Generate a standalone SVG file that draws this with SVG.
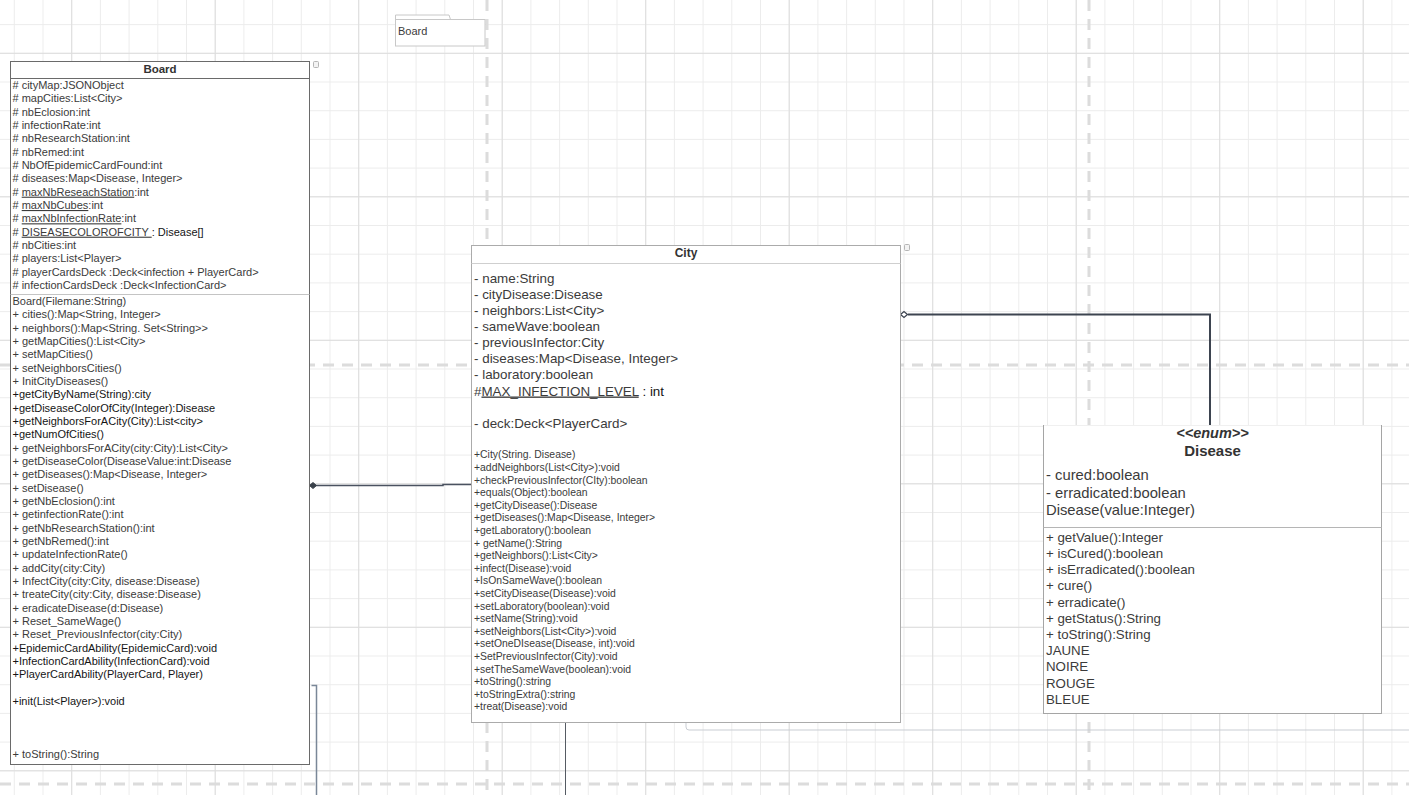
<svg xmlns="http://www.w3.org/2000/svg" width="1409" height="795" viewBox="0 0 1409 795">
<defs>
<pattern id="minor" width="28.7" height="28.7" patternUnits="userSpaceOnUse" x="13.8" y="24.1"><path d="M0 0.5H28.7M0.5 0V28.7" stroke="#ececec" stroke-width="1" fill="none"/></pattern>
<pattern id="major" width="143.5" height="143.5" patternUnits="userSpaceOnUse" x="71.2" y="52.8"><path d="M0 0.5H143.5M0.5 0V143.5" stroke="#dddddd" stroke-width="1" fill="none"/></pattern>
<style>
.t{font-family:"Liberation Sans",Arial,sans-serif;fill:#3b3b3b}
.b{font-size:11px}
.dk{fill:#151515}
.ca{font-size:13.4px}
.cm{font-size:10.4px}
.da{font-size:14.8px}
.dm{font-size:13.3px}
.hd{font-weight:bold;text-anchor:middle;fill:#333}
.u{text-decoration:underline}
.page{stroke:#dcdcdc;stroke-width:3;stroke-dasharray:11 8;fill:none}
.icon{fill:#f3f3f3;stroke:#b5b5b5;stroke-width:1}
</style>
</defs>
<rect width="1409" height="795" fill="#ffffff"/>
<rect width="1409" height="795" fill="url(#minor)"/>
<rect width="1409" height="795" fill="url(#major)"/>
<g id="pagebreaks">
<path class="page" d="M487 0V795"/>
<path class="page" d="M1089 0V795"/>
<path class="page" d="M0 365H1409"/>
<path class="page" d="M0 784H1409"/>
</g>
<g id="package">
<path d="M395.5 19.5V15H449l1.5 4.5" fill="#fff" stroke="#c8c8c8" stroke-width="1"/>
<rect x="395.5" y="19.5" width="89.5" height="26.5" fill="#fff" stroke="#c8c8c8" stroke-width="1"/>
<text class="t" x="398" y="35" font-size="11px">Board</text>
</g>
<g id="connectors" fill="none">
<path d="M316 485.5H443V484.5H471" stroke="#4a5260" stroke-width="1.5"/>
<path d="M309.5 485.5l3.5-3 3.5 3-3.5 3z" fill="#3a414a" stroke="#3a414a" stroke-width="1"/>
<path d="M908 314.5H1210V425" stroke="#3d4450" stroke-width="2"/>
<path d="M900.5 314.5l3.5-3 3.5 3-3.5 3z" fill="#fff" stroke="#3d4450" stroke-width="1.3"/>
<path d="M311.5 685.5H316.5V795" stroke="#7a8798" stroke-width="1.5"/>
<path d="M565.5 722V795" stroke="#555b63" stroke-width="1"/>
<path d="M686 722V727a3 3 0 0 0 3 3H1409" stroke="#c9cdd3" stroke-width="1"/>
</g>
<g id="Board">
<rect x="10.5" y="61.5" width="299" height="703" fill="#fff" stroke="#6a6a6a" stroke-width="1"/>
<path d="M10.5 78.5H309.5" stroke="#6a6a6a" stroke-width="1"/>
<path d="M10.5 294.5H309.5" stroke="#c4c4c4" stroke-width="1"/>
<rect class="icon" x="313.5" y="61.5" width="5" height="6" rx="1"/>
<text class="t hd" x="160" y="72.5" font-size="11.5px">Board</text>
<text class="t b" x="12.5" y="89"># cityMap:JSONObject</text>
<text class="t b" x="12.5" y="102.3"># mapCities:List&lt;City&gt;</text>
<text class="t b" x="12.5" y="115.7"># nbEclosion:int</text>
<text class="t b" x="12.5" y="129"># infectionRate:int</text>
<text class="t b" x="12.5" y="142.3"># nbResearchStation:int</text>
<text class="t b" x="12.5" y="155.7"># nbRemed:int</text>
<text class="t b" x="12.5" y="169"># NbOfEpidemicCardFound:int</text>
<text class="t b" x="12.5" y="182.3"># diseases:Map&lt;Disease, Integer&gt;</text>
<text class="t b" x="12.5" y="195.7"># <tspan class="u">maxNbReseachStation</tspan>:int</text>
<text class="t b" x="12.5" y="209"># <tspan class="u">maxNbCubes</tspan>:int</text>
<text class="t b" x="12.5" y="222.3"># <tspan class="u">maxNbInfectionRate</tspan>:int</text>
<text class="t b" x="12.5" y="235.7"># <tspan class="u">DISEASECOLOROFCITY </tspan><tspan class="dk">: Disease[]</tspan></text>
<text class="t b" x="12.5" y="249"># nbCities:int</text>
<text class="t b" x="12.5" y="262.3"># players:List&lt;Player&gt;</text>
<text class="t b" x="12.5" y="275.7"># playerCardsDeck :Deck&lt;infection + PlayerCard&gt;</text>
<text class="t b" x="12.5" y="289"># infectionCardsDeck :Deck&lt;InfectionCard&gt;</text>
<text class="t b" x="12.5" y="305">Board(Filemane:String)</text>
<text class="t b" x="12.5" y="318.3">+ cities():Map&lt;String, Integer&gt;</text>
<text class="t b" x="12.5" y="331.7">+ neighbors():Map&lt;String. Set&lt;String&gt;&gt;</text>
<text class="t b" x="12.5" y="345">+ getMapCities():List&lt;City&gt;</text>
<text class="t b" x="12.5" y="358.3">+ setMapCities()</text>
<text class="t b" x="12.5" y="371.7">+ setNeighborsCities()</text>
<text class="t b" x="12.5" y="385">+ InitCityDiseases()</text>
<text class="t b dk" x="12.5" y="398.3">+getCityByName(String):city</text>
<text class="t b dk" x="12.5" y="411.7">+getDiseaseColorOfCity(Integer):Disease</text>
<text class="t b dk" x="12.5" y="425">+getNeighborsForACity(City):List&lt;city&gt;</text>
<text class="t b dk" x="12.5" y="438.3">+getNumOfCities()</text>
<text class="t b" x="12.5" y="451.7">+ getNeighborsForACity(city:City):List&lt;City&gt;</text>
<text class="t b" x="12.5" y="465">+ getDiseaseColor(DiseaseValue:int:Disease</text>
<text class="t b" x="12.5" y="478.3">+ getDiseases():Map&lt;Disease, Integer&gt;</text>
<text class="t b" x="12.5" y="491.7">+ setDisease()</text>
<text class="t b" x="12.5" y="505">+ getNbEclosion():int</text>
<text class="t b" x="12.5" y="518.3">+ getinfectionRate():int</text>
<text class="t b" x="12.5" y="531.7">+ getNbResearchStation():int</text>
<text class="t b" x="12.5" y="545">+ getNbRemed():int</text>
<text class="t b" x="12.5" y="558.3">+ updateInfectionRate()</text>
<text class="t b" x="12.5" y="571.7">+ addCity(city:City)</text>
<text class="t b" x="12.5" y="585">+ InfectCity(city:City, disease:Disease)</text>
<text class="t b" x="12.5" y="598.3">+ treateCity(city:City, disease:Disease)</text>
<text class="t b" x="12.5" y="611.7">+ eradicateDisease(d:Disease)</text>
<text class="t b" x="12.5" y="625">+ Reset_SameWage()</text>
<text class="t b" x="12.5" y="638.3">+ Reset_PreviousInfector(city:City)</text>
<text class="t b dk" x="12.5" y="651.7">+EpidemicCardAbility(EpidemicCard):void</text>
<text class="t b dk" x="12.5" y="665">+InfectionCardAbility(InfectionCard):void</text>
<text class="t b dk" x="12.5" y="678.3">+PlayerCardAbility(PlayerCard, Player)</text>
<text class="t b dk" x="12.5" y="705">+init(List&lt;Player&gt;):void</text>
<text class="t b" x="12.5" y="758.3">+ toString():String</text>
</g>
<g id="City">
<rect x="471.5" y="245.5" width="429" height="477" fill="#fff" stroke="#ababab" stroke-width="1"/>
<path d="M471.5 263.5H900.5" stroke="#cfcfcf" stroke-width="1"/>
<rect class="icon" x="904.5" y="244.5" width="5" height="6" rx="1"/>
<text class="t hd" x="686" y="256.5" font-size="12px">City</text>
<text class="t ca" x="474" y="282.5">- name:String</text>
<text class="t ca" x="474" y="298.6">- cityDisease:Disease</text>
<text class="t ca" x="474" y="314.8">- neighbors:List&lt;City&gt;</text>
<text class="t ca" x="474" y="330.9">- sameWave:boolean</text>
<text class="t ca" x="474" y="347.1">- previousInfector:City</text>
<text class="t ca" x="474" y="363.2">- diseases:Map&lt;Disease, Integer&gt;</text>
<text class="t ca" x="474" y="379.4">- laboratory:boolean</text>
<text class="t ca" x="474" y="395.5">#<tspan class="u">MAX_INFECTION_LEVEL</tspan> <tspan class="dk">: int</tspan></text>
<text class="t ca" x="474" y="427.8">- deck:Deck&lt;PlayerCard&gt;</text>
<text class="t cm" x="474" y="458.3">+City(String. Disease)</text>
<text class="t cm" x="474" y="470.9">+addNeighbors(List&lt;City&gt;):void</text>
<text class="t cm" x="474" y="483.5">+checkPreviousInfector(CIty):boolean</text>
<text class="t cm" x="474" y="496.1">+equals(Object):boolean</text>
<text class="t cm" x="474" y="508.7">+getCityDisease():Disease</text>
<text class="t cm" x="474" y="521.3">+getDiseases():Map&lt;Disease, Integer&gt;</text>
<text class="t cm" x="474" y="533.9">+getLaboratory():boolean</text>
<text class="t cm" x="474" y="546.5">+ getName():String</text>
<text class="t cm" x="474" y="559.1">+getNeighbors():List&lt;City&gt;</text>
<text class="t cm" x="474" y="571.7">+infect(Disease):void</text>
<text class="t cm" x="474" y="584.3">+IsOnSameWave():boolean</text>
<text class="t cm" x="474" y="596.9">+setCityDisease(Disease):void</text>
<text class="t cm" x="474" y="609.5">+setLaboratory(boolean):void</text>
<text class="t cm" x="474" y="622.1">+setName(String):void</text>
<text class="t cm" x="474" y="634.7">+setNeighbors(List&lt;City&gt;):void</text>
<text class="t cm" x="474" y="647.3">+setOneDIsease(Disease, int):void</text>
<text class="t cm" x="474" y="659.9">+SetPreviousInfector(City):void</text>
<text class="t cm" x="474" y="672.5">+setTheSameWave(boolean):void</text>
<text class="t cm" x="474" y="685.1">+toString():string</text>
<text class="t cm" x="474" y="697.7">+toStringExtra():string</text>
<text class="t cm" x="474" y="710.3">+treat(Disease):void</text>
</g>
<g id="Disease">
<rect x="1043.5" y="425.5" width="338" height="288" fill="#fff" stroke="#a5a5a5" stroke-width="1"/>
<path d="M1044 425.5H1381" stroke="#f0f0f0" stroke-width="1.2"/>
<path d="M1043.5 527.5H1381.5" stroke="#b5b5b5" stroke-width="1"/>
<text class="t hd" x="1212.5" y="438" font-size="14.5px" font-style="italic">&lt;&lt;enum&gt;&gt;</text>
<text class="t hd" x="1212.5" y="456" font-size="15px">Disease</text>
<text class="t da" x="1046" y="480">- cured:boolean</text>
<text class="t da" x="1046" y="497.5">- erradicated:boolean</text>
<text class="t da" x="1046" y="515">Disease(value:Integer)</text>
<text class="t dm" x="1046" y="541.7">+ getValue():Integer</text>
<text class="t dm" x="1046" y="557.9">+ isCured():boolean</text>
<text class="t dm" x="1046" y="574.1">+ isErradicated():boolean</text>
<text class="t dm" x="1046" y="590.3">+ cure()</text>
<text class="t dm" x="1046" y="606.5">+ erradicate()</text>
<text class="t dm" x="1046" y="622.7">+ getStatus():String</text>
<text class="t dm" x="1046" y="638.9">+ toString():String</text>
<text class="t dm" x="1046" y="655.1">JAUNE</text>
<text class="t dm" x="1046" y="671.3">NOIRE</text>
<text class="t dm" x="1046" y="687.5">ROUGE</text>
<text class="t dm" x="1046" y="703.7">BLEUE</text>
</g>
</svg>
